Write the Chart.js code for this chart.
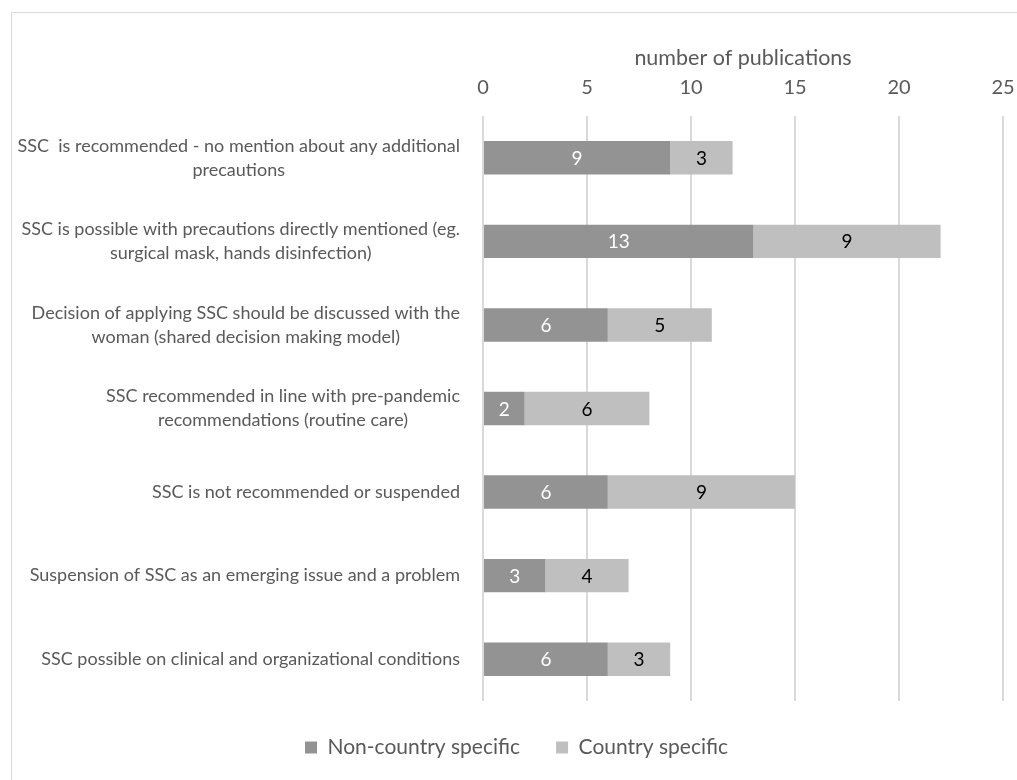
<!DOCTYPE html>
<html>
<head>
<meta charset="utf-8">
<script src="https://cdn.jsdelivr.net/npm/chart.js@4.4.1/dist/chart.umd.min.js"></script>
<style>
  html, body { margin: 0; padding: 0; background: #fff; }
  #wrap { width: 1017px; height: 780px; position: relative; }
</style>
</head>
<body>
<div id="wrap"><canvas id="chartCanvas"></canvas></div>
<script>
// category labels, one array entry per wrapped line
const categories = [
  ["SSC  is recommended - no mention about any additional", "precautions"],
  ["SSC is possible with precautions directly mentioned (eg.", "surgical mask, hands disinfection)"],
  ["Decision of applying SSC should be discussed with the", "woman (shared decision making model)"],
  ["SSC recommended in line with pre-pandemic", "recommendations (routine care)"],
  ["SSC is not recommended or suspended"],
  ["Suspension of SSC as an emerging issue and a problem"],
  ["SSC possible on clinical and organizational conditions"]
];
const nonCountrySpecific = [9, 13, 6, 2, 6, 3, 6];
const countrySpecific = [3, 9, 5, 6, 9, 4, 3];
const xTicks = [0, 5, 10, 15, 20, 25];

const FONT = "Lato, 'Open Sans', sans-serif";
const TEXT = "#595959";

// light frame around the whole chart
const framePlugin = {
  id: "frame",
  beforeDraw(chart) {
    const ctx = chart.ctx;
    ctx.save();
    ctx.strokeStyle = "#d9d9d9";
    ctx.lineWidth = 1;
    ctx.beginPath();
    ctx.moveTo(11.5, chart.height);
    ctx.lineTo(11.5, 12.5);
    ctx.lineTo(chart.width, 12.5);
    ctx.stroke();
    ctx.restore();
  }
};

// wrapped category labels: block right aligned, lines centred inside the block
const categoryLabels = {
  id: "categoryLabels",
  afterDraw(chart) {
    const ctx = chart.ctx;
    const y = chart.scales.y;
    const right = chart.chartArea.left - 23;
    const lineH = 24;
    ctx.save();
    ctx.font = "18px " + FONT;
    ctx.fillStyle = TEXT;
    ctx.textAlign = "center";
    ctx.textBaseline = "middle";
    categories.forEach((lines, i) => {
      const w = Math.max(...lines.map(l => ctx.measureText(l).width));
      const cx = right - w / 2;
      const cy = y.getPixelForTick(i);
      lines.forEach((l, j) => {
        ctx.fillText(l, cx, cy + (j - (lines.length - 1) / 2) * lineH);
      });
    });
    ctx.restore();
  }
};

// value labels in the middle of each bar segment
const valueLabels = {
  id: "valueLabels",
  afterDatasetsDraw(chart) {
    const ctx = chart.ctx;
    ctx.save();
    ctx.font = "19px " + FONT;
    ctx.textAlign = "center";
    ctx.textBaseline = "middle";
    chart.data.datasets.forEach((ds, di) => {
      const meta = chart.getDatasetMeta(di);
      ctx.fillStyle = di === 0 ? "#ffffff" : "#000000";
      meta.data.forEach((bar, i) => {
        ctx.fillText(String(ds.data[i]), (bar.x + bar.base) / 2, bar.y + 1);
      });
    });
    ctx.restore();
  }
};

new Chart(document.getElementById("chartCanvas"), {
  type: "bar",
  data: {
    labels: categories,
    datasets: [
      { label: "Non-country specific", data: nonCountrySpecific, backgroundColor: "#939393" },
      { label: "Country specific", data: countrySpecific, backgroundColor: "#bfbfbf" }
    ]
  },
  options: {
    indexAxis: "y",
    responsive: true,
    maintainAspectRatio: false,
    animation: false,
    layout: { padding: { top: 45, right: 14, bottom: 12, left: 30 } },
    datasets: { bar: { categoryPercentage: 1, barPercentage: 0.4 } },
    scales: {
      x: {
        position: "top",
        stacked: true,
        min: 0,
        max: 25,
        afterBuildTicks(scale) { scale.ticks = xTicks.map(v => ({ value: v })); },
        afterFit(scale) {
          scale.height = 71;
          scale.paddingLeft = 0;
          scale.paddingRight = 0;
        },
        grid: { color: "#d9d9d9", lineWidth: 2, drawTicks: false },
        border: { display: false },
        ticks: { color: TEXT, font: { family: FONT, size: 20 }, padding: 16 },
        title: {
          display: true,
          text: "number of publications",
          color: TEXT,
          font: { family: FONT, size: 21.5 },
          padding: { top: 0, bottom: 0 }
        }
      },
      y: {
        stacked: true,
        grid: { display: false },
        border: { display: false },
        ticks: { display: false },
        afterFit(scale) { scale.width = 453; }
      }
    },
    plugins: {
      legend: {
        position: "bottom",
        labels: {
          color: TEXT,
          font: { family: FONT, size: 21 },
          boxWidth: 12,
          boxHeight: 12,
          padding: 36
        }
      },
      tooltip: { enabled: false }
    }
  },
  plugins: [framePlugin, categoryLabels, valueLabels]
});
</script>
</body>
</html>
